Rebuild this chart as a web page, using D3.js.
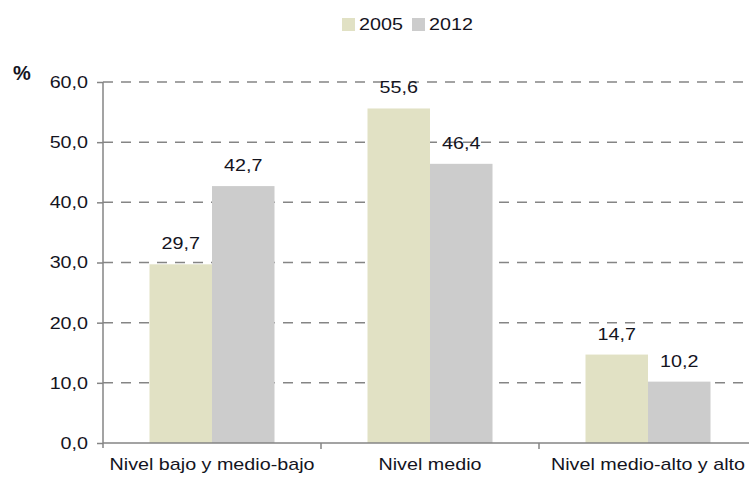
<!DOCTYPE html>
<html>
<head>
<meta charset="utf-8">
<script src="https://cdn.jsdelivr.net/npm/d3@7"></script>
<style>
  html, body { margin: 0; padding: 0; background: #fff; }
  svg { display: block; }
  text { font-family: "Liberation Sans", Arial, sans-serif; fill: #14141e; }
</style>
</head>
<body>
<svg id="chart" width="749" height="483"></svg>
<script>
const categories = ["Nivel bajo y medio-bajo", "Nivel medio", "Nivel medio-alto y alto"];
const seriesNames = ["2005", "2012"];
const values2005 = [29.7, 55.6, 14.7];
const values2012 = [42.7, 46.4, 10.2];
const yTicks = [0, 10, 20, 30, 40, 50, 60];
const colors = ["#e1e1c4", "#cccccc"];

(function () {
const seriesValues = [values2005, values2012];
const fmt = v => d3.format(".1f")(v).replace(".", ",");
const STRETCH = 1.16;
const textColor = "#14141e";
function stretch(sel) {
  sel.each(function () {
    const l = this.getComputedTextLength();
    this.setAttribute("textLength", l * STRETCH);
    this.setAttribute("lengthAdjust", "spacingAndGlyphs");
  });
}

const svg = d3.select("#chart");
const mLeft = 103, mTop = 82, mBottom = 443, step = 218;
const mRight = mLeft + step * categories.length;

const y = d3.scaleLinear().domain([0, 60]).range([mBottom, mTop]);
const x0 = d3.scaleBand().domain(categories).range([mLeft, mRight]).padding(0);
const x1 = d3.scaleBand().domain(seriesNames).range([0, x0.bandwidth()])
  .paddingInner(0).paddingOuter(0.744);

// gridlines
svg.append("g").selectAll("line")
  .data(yTicks.filter(t => t > 0))
  .join("line")
  .attr("x1", mLeft).attr("x2", mRight)
  .attr("y1", d => y(d)).attr("y2", d => y(d))
  .attr("stroke", "#858585").attr("stroke-width", 1.5)
  .attr("stroke-dasharray", "10,8");

// bars
const groups = svg.append("g").selectAll("g")
  .data(categories)
  .join("g")
  .attr("transform", d => `translate(${x0(d)},0)`);

groups.selectAll("rect")
  .data((c, i) => seriesNames.map((s, j) => ({ s, v: seriesValues[j][i], j })))
  .join("rect")
  .attr("x", d => x1(d.s))
  .attr("width", x1.bandwidth())
  .attr("y", d => y(d.v))
  .attr("height", d => y(0) - y(d.v))
  .attr("fill", d => colors[d.j]);

// value labels
groups.selectAll("text")
  .data((c, i) => seriesNames.map((s, j) => ({ s, v: seriesValues[j][i], j })))
  .join("text")
  .attr("x", d => x1(d.s) + x1.bandwidth() / 2)
  .attr("y", d => y(d.v) - 15)
  .attr("text-anchor", "middle")
  .attr("font-size", 17)
  .text(d => fmt(d.v))
  .call(stretch);

// y axis
const yAxis = svg.append("g")
  .attr("transform", `translate(${mLeft},0)`)
  .call(d3.axisLeft(y).tickValues(yTicks).tickFormat(fmt).tickSize(6).tickPadding(9));
yAxis.select(".domain").attr("stroke", "#858585").attr("stroke-width", 1.5)
  .attr("d", `M0,${mTop}V${mBottom + 5}`);
yAxis.selectAll(".tick line").attr("stroke", "#858585").attr("stroke-width", 1.5);
yAxis.selectAll(".tick text").attr("font-size", 17).attr("fill", textColor)
  .attr("font-family", "Liberation Sans, Arial, sans-serif").call(stretch);

// x axis
const xAxis = svg.append("g")
  .attr("transform", `translate(0,${mBottom})`)
  .call(d3.axisBottom(x0).tickSize(0).tickPadding(15));
xAxis.select(".domain").attr("stroke", "#858585").attr("stroke-width", 1.5)
  .attr("d", `M${mLeft},0H${mRight}`);
xAxis.selectAll(".tick text").attr("font-size", 17).attr("fill", textColor)
  .attr("font-family", "Liberation Sans, Arial, sans-serif").call(stretch);
xAxis.append("g").selectAll("line")
  .data(categories.slice(1))
  .join("line")
  .attr("x1", d => x0(d)).attr("x2", d => x0(d))
  .attr("y1", 0).attr("y2", 6)
  .attr("stroke", "#858585").attr("stroke-width", 1.5);

// % label
svg.append("text")
  .attr("x", 22).attr("y", 80)
  .attr("text-anchor", "middle")
  .attr("font-size", 20)
  .attr("font-weight", "bold")
  .text("%");

// legend
const legend = svg.append("g");
const legX = [342, 412];
seriesNames.forEach((s, j) => {
  legend.append("rect")
    .attr("x", legX[j]).attr("y", 18)
    .attr("width", 13).attr("height", 13)
    .attr("fill", colors[j]);
  legend.append("text")
    .attr("x", legX[j] + 17).attr("y", 30)
    .attr("font-size", 17)
    .text(s).call(stretch);
});
})();
</script>
</body>
</html>
